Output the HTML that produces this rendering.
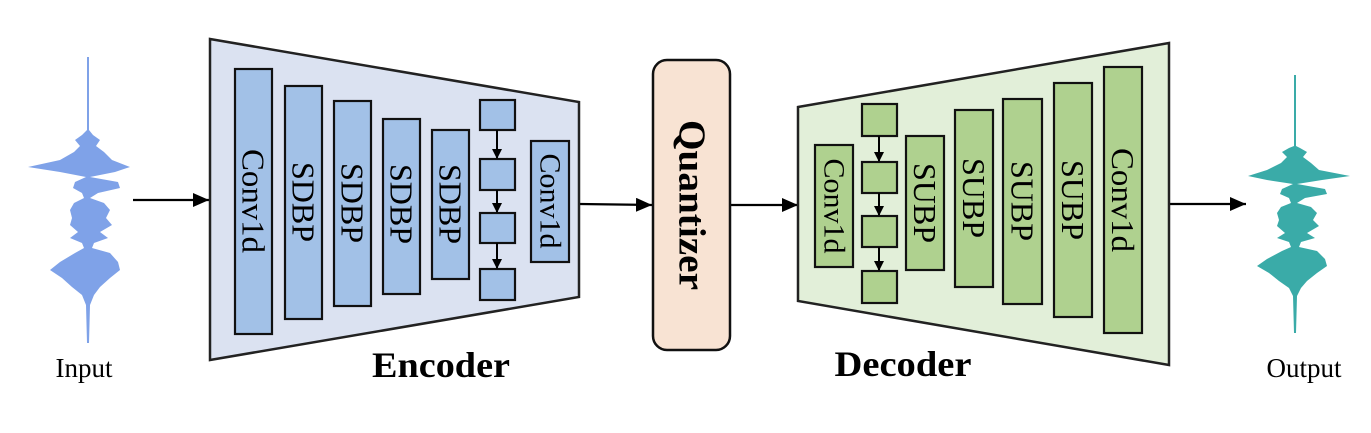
<!DOCTYPE html>
<html><head><meta charset="utf-8"><style>html,body{margin:0;padding:0;background:#fff}svg{display:block}</style></head>
<body>
<svg width="1371" height="433" viewBox="0 0 1371 433" xmlns="http://www.w3.org/2000/svg" font-family="'Liberation Serif',serif">
<defs><marker id="ah" markerWidth="10" markerHeight="10" refX="9" refY="5" orient="auto" markerUnits="userSpaceOnUse"><path d="M0,0 L10,5 L0,10 z" fill="#000"/></marker>
<marker id="ab" markerWidth="16" markerHeight="14" refX="16" refY="7" orient="auto" markerUnits="userSpaceOnUse"><path d="M0,0 L16,7 L0,14 z" fill="#000"/></marker></defs>

<polygon fill="#7fa2e8" points="89,57 89,130 93,135 100,140 96,146 104,152 112,160 130,167 115,172 90,177 118,182 120,188 98,193 90,198 104,203 110,210 106,218 112,225 100,232 108,238 94,243 92,248 110,253 118,262 120,270 110,278 100,287 94,295 90,305 89,343 87,343 86,305 82,295 72,287 62,278 50,270 60,262 75,253 84,248 82,243 70,238 78,232 70,225 72,218 70,210 74,203 84,198 82,193 73,188 75,182 86,177 60,172 28,167 60,160 74,152 80,146 75,140 82,135 87,130 87,57"/>
<polygon fill="#3aaba8" points="1296,75 1296,146 1300,148 1307,152 1303,157 1311,163 1319,170 1350,176 1322,180 1297,184 1325,189 1327,194 1305,198 1297,203 1311,207 1317,213 1313,220 1319,226 1307,233 1315,238 1301,242 1299,247 1317,251 1325,259 1327,266 1317,273 1307,281 1301,288 1297,296 1296,333 1294,333 1293,296 1289,288 1279,281 1269,273 1257,266 1267,259 1282,251 1291,247 1289,242 1277,238 1285,233 1277,226 1279,220 1277,213 1281,207 1291,203 1289,198 1280,194 1282,189 1293,184 1267,180 1248,176 1267,170 1281,163 1287,157 1282,152 1289,148 1294,146 1294,75"/>

<text x="84" y="377" font-size="27" text-anchor="middle">Input</text>
<text x="1304" y="377" font-size="27" text-anchor="middle">Output</text>

<g stroke="#000" stroke-width="2.2" fill="none">
<line x1="133" y1="200" x2="209" y2="200" marker-end="url(#ab)"/>
<line x1="580" y1="204" x2="652" y2="205" marker-end="url(#ab)"/>
<line x1="731" y1="205" x2="798" y2="205" marker-end="url(#ab)"/>
<line x1="1170" y1="204" x2="1246" y2="204" marker-end="url(#ab)"/>
</g>

<polygon points="210,39 579,102 579,297 210,360" fill="#dbe2f1" stroke="#222" stroke-width="2.5"/>
<g fill="#a2c1e7" stroke="#111" stroke-width="2.2">
<rect x="235" y="69" width="37" height="265"/>
<rect x="285" y="86" width="37" height="233"/>
<rect x="334" y="101" width="37" height="205"/>
<rect x="383" y="119" width="37" height="175"/>
<rect x="432" y="130" width="37" height="149"/>
<rect x="480" y="100" width="35" height="30"/>
<rect x="480" y="159" width="35" height="31"/>
<rect x="480" y="213" width="35" height="30"/>
<rect x="480" y="269" width="35" height="31"/>
<rect x="531" y="141" width="38" height="121"/>
</g>
<g stroke="#000" stroke-width="2">
<line x1="497" y1="130" x2="497" y2="158" marker-end="url(#ah)"/>
<line x1="497" y1="190" x2="497" y2="212" marker-end="url(#ah)"/>
<line x1="497" y1="243" x2="497" y2="268" marker-end="url(#ah)"/>
</g>
<g font-size="32" text-anchor="middle" dominant-baseline="central">
<text transform="translate(253.5,201) rotate(90)" textLength="104" lengthAdjust="spacingAndGlyphs">Conv1d</text>
<text transform="translate(303.5,202) rotate(90)">SDBP</text>
<text transform="translate(352.5,203) rotate(90)">SDBP</text>
<text transform="translate(401.5,204) rotate(90)">SDBP</text>
<text transform="translate(450.5,204) rotate(90)">SDBP</text>
<text transform="translate(550,201) rotate(90)" font-size="30">Conv1d</text>
</g>
<text x="441" y="377" font-size="36" font-weight="bold" text-anchor="middle" textLength="138" lengthAdjust="spacingAndGlyphs">Encoder</text>

<rect x="653" y="60" width="77" height="290" rx="14" fill="#f8e3d3" stroke="#111" stroke-width="2.5"/>
<text transform="translate(691.5,205) rotate(90)" font-size="38" font-weight="bold" text-anchor="middle" dominant-baseline="central" textLength="170" lengthAdjust="spacingAndGlyphs">Quantizer</text>

<polygon points="798,107 1169,43 1169,365 798,301" fill="#e2efd9" stroke="#222" stroke-width="2.5"/>
<g fill="#afd18f" stroke="#111" stroke-width="2.2">
<rect x="815" y="145" width="38" height="122"/>
<rect x="862" y="104" width="35" height="32"/>
<rect x="862" y="162" width="35" height="31"/>
<rect x="862" y="216" width="35" height="31"/>
<rect x="862" y="271" width="35" height="32"/>
<rect x="906" y="136" width="38" height="134"/>
<rect x="955" y="110" width="38" height="177"/>
<rect x="1003" y="99" width="39" height="205"/>
<rect x="1054" y="83" width="38" height="234"/>
<rect x="1104" y="67" width="38" height="266"/>
</g>
<g stroke="#000" stroke-width="2">
<line x1="879" y1="136" x2="879" y2="161" marker-end="url(#ah)"/>
<line x1="879" y1="193" x2="879" y2="215" marker-end="url(#ah)"/>
<line x1="879" y1="247" x2="879" y2="270" marker-end="url(#ah)"/>
</g>
<g font-size="32" text-anchor="middle" dominant-baseline="central">
<text transform="translate(834,206) rotate(90)" font-size="30">Conv1d</text>
<text transform="translate(925,203) rotate(90)">SUBP</text>
<text transform="translate(974,198) rotate(90)">SUBP</text>
<text transform="translate(1022.5,201) rotate(90)">SUBP</text>
<text transform="translate(1073,200) rotate(90)">SUBP</text>
<text transform="translate(1123,200) rotate(90)" textLength="104" lengthAdjust="spacingAndGlyphs">Conv1d</text>
</g>
<text x="903" y="376" font-size="36" font-weight="bold" text-anchor="middle" textLength="137" lengthAdjust="spacingAndGlyphs">Decoder</text>
</svg>
</body></html>
